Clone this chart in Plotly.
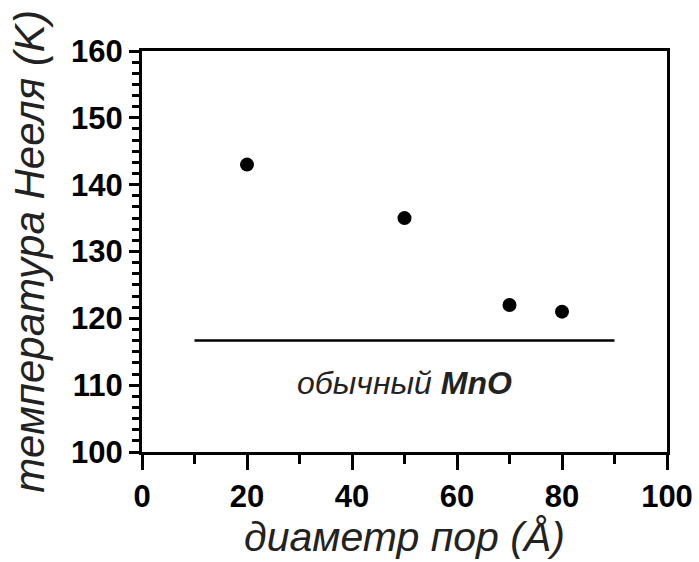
import plotly.graph_objects as go

pore_diameter = [20, 50, 70, 80]
neel_temperature = [143, 135, 122, 121]
bulk_line_x = [10, 90]
bulk_line_y = [116.7, 116.7]

fig = go.Figure()
fig.add_trace(go.Scatter(x=bulk_line_x, y=bulk_line_y, mode="lines",
                         line=dict(color="black", width=2.5), showlegend=False))
fig.add_trace(go.Scatter(x=pore_diameter, y=neel_temperature, mode="markers",
                         marker=dict(color="black", size=14), showlegend=False))

fig.add_annotation(x=50, y=110.3, xref="x", yref="y", showarrow=False,
                   text="<i>обычный </i><b><i>MnO</i></b>",
                   font=dict(family="Liberation Sans", size=32, color="#222"))

tickfont = dict(family="Liberation Sans", size=31, color="black", weight="bold")
xtitlefont = dict(family="Liberation Sans", size=41, color="#222", style="italic")
ytitlefont = dict(family="Liberation Sans", size=42, color="#222", style="italic")

fig.update_xaxes(range=[0, 100], dtick=20, tick0=0, ticks="outside", ticklen=15,
                 tickwidth=3, tickcolor="black", showline=True, linecolor="black",
                 linewidth=3, mirror=True, showgrid=False, zeroline=False,
                 tickfont=tickfont, automargin=False,
                 minor=dict(dtick=10, ticks="outside", ticklen=9, tickwidth=3, tickcolor="black"),
                 title=dict(text="диаметр пор (Å)", font=xtitlefont, standoff=8))
fig.update_yaxes(range=[100, 160], dtick=10, tick0=100, ticks="outside", ticklen=10,
                 tickwidth=3, tickcolor="black", showline=True, linecolor="black",
                 linewidth=3, mirror=True, showgrid=False, zeroline=False,
                 tickfont=tickfont, automargin=False,
                 minor=dict(dtick=10/6, ticks="outside", ticklen=7, tickwidth=3, tickcolor="black"),
                 title=dict(text="температура Нееля (K)", font=ytitlefont, standoff=14))

fig.update_layout(width=699, height=562, plot_bgcolor="white", paper_bgcolor="white",
                  margin=dict(l=142, r=32, t=51, b=110))

fig.write_html("out.html", config={"displayModeBar": False},
               post_script="document.body.style.margin='0';")
